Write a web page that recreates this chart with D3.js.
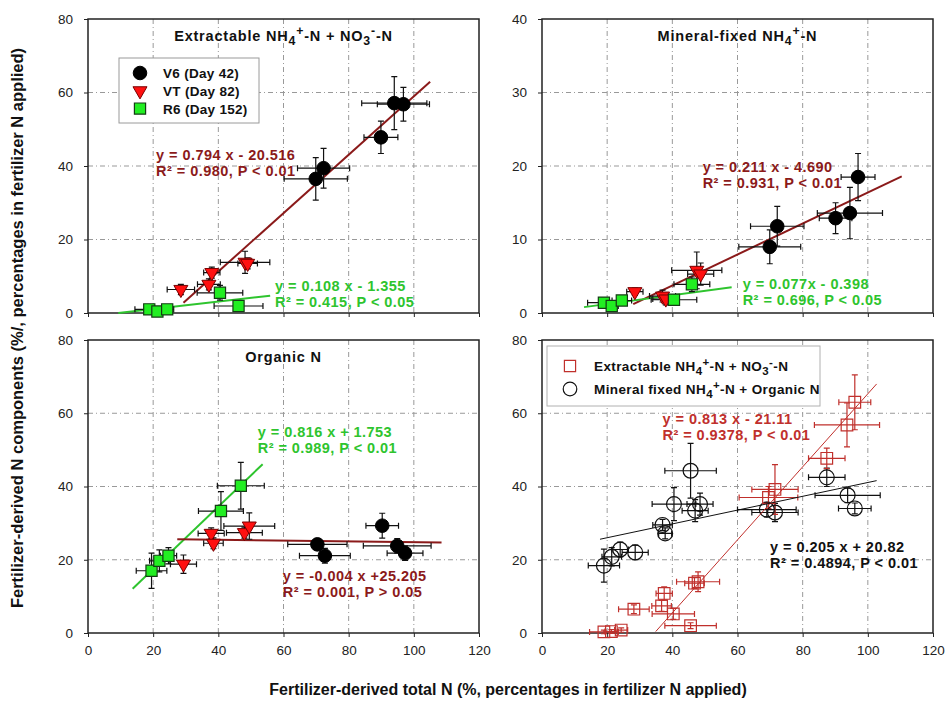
<!DOCTYPE html>
<html>
<head>
<meta charset="utf-8">
<script src="https://cdnjs.cloudflare.com/ajax/libs/d3/7.8.5/d3.min.js"></script>
<style>
body { margin:0; background:#fff; }
svg { font-family: "Liberation Sans", Arial, sans-serif; }
</style>
</head>
<body>
<svg></svg>
<script>
// each point: [total N, component N, x error, y error]
var extV6 = [[94.0,57.1,10,7.2],[96.8,56.8,8,4.6],[89.9,47.8,5.2,4.4],[72.3,39.4,8,5.4],[69.9,36.5,9.7,5.8]];
var extVT = [[28.5,6.4,4.2,1.4],[37.1,7.8,3.5,1.5],[38.0,11.0,2.5,1.5],[48.2,13.8,7.6,3.0],[49.0,13.5,3,1.5]];
var extR6 = [[18.8,1.0,4.4,0.8],[21.3,0.4,2,0.6],[24.3,1.0,2,0.8],[40.5,5.5,7,2.0],[46.2,1.9,7.5,0.8]];

var fixV6 = [[97.0,18.5,5.2,3.2],[94.5,13.6,10,3.5],[90.1,12.9,5,2.1],[72.2,11.8,8.2,2.7],[69.9,9.0,9.5,2.3]];
var fixVT = [[28.5,2.9,2.5,0.5],[37.0,2.3,4,0.8],[38.0,1.9,4,0.8],[47.5,5.8,7.7,2.5],[48.7,5.3,4,1.5]];
var fixR6 = [[19.0,1.4,5,0.6],[21.4,0.95,2,0.5],[24.5,1.7,3,0.6],[46.0,3.9,5.5,1.0],[40.5,1.8,7,0.6]];

var orgV6 = [[90.3,29.3,5,3.4],[94.9,23.8,10.4,2.0],[97.3,21.8,5.5,2.0],[70.4,24.2,9.1,1.5],[72.7,21.1,7.8,2.0]];
var orgVT = [[29.3,18.8,4,2.5],[37.8,27.2,4,1.5],[38.5,24.5,3,1.5],[48.0,27.4,5.5,1.5],[49.5,29.2,7.8,3.6]];
var orgR6 = [[19.5,17.0,4.7,4.8],[21.9,19.7,3,3],[24.7,21.1,2.5,2.2],[40.8,33.3,6.9,5.3],[46.9,40.2,7.2,6.4]];

var sumExt = [[96.0,63.0,4.9,7.5],[93.6,56.8,10,6],[87.4,47.7,5.6,2.8],[71.5,39.2,7.1,6.8],[69.5,37.0,9,3],
              [47.9,14.0,6.6,2.7],[46.8,13.6,3,1.5],[37.5,10.8,2.5,1.8],[36.7,7.4,3,1.5],[28.2,6.5,4.7,1.2],
              [40.3,5.2,6.5,1.5],[45.6,2.0,7.9,0.8],[19.0,0.3,4.4,0.5],[21.3,0.4,2,0.5],[24.3,0.8,2,0.6]];
var sumFixOrg = [[45.6,44.3,7.9,7.5],[40.5,35.2,6.7,4.5],[48.5,35.2,4,3],[47.0,33.4,4,3],[37.0,29.5,3,1.5],
                 [37.8,27.2,2,1.5],[19.0,18.4,4.8,4.5],[21.4,20.8,3,2.5],[24.0,22.8,2.5,2],[28.6,22.0,4,2],
                 [87.4,42.5,5.6,2.5],[93.8,37.6,10,2],[96.0,34.0,5,1.5],[71.5,32.9,7.1,2.5],[69.0,33.7,9,2]];

// regression lines as drawn: [[x start, y start],[x end, y end]]
var extFitRed = [[29.3,2.8],[105,62.9]];
var extFitGreen = [[9.3,0.0],[55.9,4.7]];
var fixFitRed = [[28.0,1.2],[110.4,18.6]];
var fixFitGreen = [[12.9,0.8],[58.2,3.5]];
var orgFitGreen = [[13.7,12.1],[53.6,46.1]];
var orgFitRed = [[27.4,25.6],[108.5,24.7]];
var sumFitRed = [[34.9,0.4],[102.7,68.0]];
var sumFitBlack = [[17.8,25.6],[102.7,41.6]];

var extEqRed = ["y = 0.794 x - 20.516", "R\u00b2 = 0.980, P < 0.01"];
var extEqGreen = ["y = 0.108 x - 1.355", "R\u00b2 = 0.415, P < 0.05"];
var fixEqRed = ["y = 0.211 x - 4.690", "R\u00b2 = 0.931, P < 0.01"];
var fixEqGreen = ["y = 0.077x - 0.398", "R\u00b2 = 0.696, P < 0.05"];
var orgEqGreen = ["y = 0.816 x + 1.753", "R\u00b2 = 0.989, P < 0.01"];
var orgEqRed = ["y = -0.004 x +25.205", "R\u00b2 = 0.001, P > 0.05"];
var sumEqRed = ["y = 0.813 x - 21.11", "R\u00b2 = 0.9378, P < 0.01"];
var sumEqBlack = ["y = 0.205 x + 20.82", "R\u00b2 = 0.4894, P < 0.01"];

var xTicks = [0,20,40,60,80,100,120];
var yTicksMain = [0,20,40,60,80];
var yTicksFixed = [0,10,20,30,40];
var stageNames = ["V6 (Day 42)", "VT (Day 82)", "R6 (Day 152)"];

var darkRed = "#8b1a1a";
var green = "#2ec42e";
var lightRed = "#c0302c";

var svg = d3.select("svg")
            .attr("width", 947)
            .attr("height", 702);

// rich text: [string, "sub" | "sup" | ""]
var richText = function(sel, parts, size)
{
  var cur = 0;
  parts.forEach(function(p) {
    var target = 0;
    var t = sel.append("tspan").text(p[0]);
    if (p[1] == "sub") { target = size*0.28; t.attr("font-size", size*0.85); }
    if (p[1] == "sup") { target = -size*0.4; t.attr("font-size", size*0.85); }
    t.attr("dy", target - cur);
    cur = target;
  });
}

var drawPanel = function(p)
{
  var xScale = d3.scaleLinear()
                 .domain([0,120])
                 .range([p.left, p.right]);
  var yScale = d3.scaleLinear()
                 .domain([0,p.yTicks[p.yTicks.length-1]])
                 .range([p.bottom, p.top]);
  var g = svg.append("g");

  // grid
  g.selectAll(".vgrid")
   .data(xTicks.slice(1,-1))
   .enter()
   .append("line")
   .attr("x1", function(d) { return xScale(d); })
   .attr("x2", function(d) { return xScale(d); })
   .attr("y1", p.top)
   .attr("y2", p.bottom)
   .attr("stroke", "#999")
   .attr("stroke-dasharray", "5,3,1,3");
  g.selectAll(".hgrid")
   .data(p.yTicks.slice(1,-1))
   .enter()
   .append("line")
   .attr("y1", function(d) { return yScale(d); })
   .attr("y2", function(d) { return yScale(d); })
   .attr("x1", p.left)
   .attr("x2", p.right)
   .attr("stroke", "#999")
   .attr("stroke-dasharray", "5,3,1,3");

  // axes
  var xAxis = g.append("g")
               .attr("transform", "translate(0," + p.bottom + ")")
               .call(d3.axisBottom(xScale).tickValues(xTicks).tickSize(4).tickPadding(8)
                       .tickFormat(p.xLabels ? d3.format("d") : function() { return ""; }));
  var yAxis = g.append("g")
               .attr("transform", "translate(" + p.left + ",0)")
               .call(d3.axisLeft(yScale).tickValues(p.yTicks).tickSize(4).tickPadding(11));
  [xAxis, yAxis].forEach(function(a) {
    a.select(".domain").remove();
    a.selectAll("line").attr("stroke", "#222");
    a.selectAll("text").attr("font-size", 13.5).attr("fill", "#222")
     .attr("font-family", "Liberation Sans, Arial, sans-serif");
  });

  g.append("rect")
   .attr("x", p.left)
   .attr("y", p.top)
   .attr("width", p.right - p.left)
   .attr("height", p.bottom - p.top)
   .attr("fill", "none")
   .attr("stroke", "#222")
   .attr("stroke-width", 1.5);

  // title
  if (p.title)
  {
    var t = g.append("text")
             .attr("x", (p.left + p.right)/2)
             .attr("y", p.top + 22)
             .attr("text-anchor", "middle")
             .attr("font-weight", "bold")
             .attr("font-size", 14.5)
             .attr("letter-spacing", 0.8)
             .attr("fill", "#111");
    richText(t, p.title, 14.5);
  }

  // fitted lines
  p.fits.forEach(function(f) {
    g.append("line")
     .attr("x1", xScale(f.line[0][0]))
     .attr("y1", yScale(f.line[0][1]))
     .attr("x2", xScale(f.line[1][0]))
     .attr("y2", yScale(f.line[1][1]))
     .attr("stroke", f.color)
     .attr("stroke-width", f.width);
  });

  // error bars
  p.series.forEach(function(s) {
    g.selectAll(null)
     .data(s.data)
     .enter()
     .append("path")
     .attr("d", function(d) {
       var cx = xScale(d[0]), cy = yScale(d[1]);
       var x0 = xScale(d[0]-d[2]), x1 = xScale(d[0]+d[2]);
       var y0 = yScale(d[1]-d[3]), y1 = yScale(d[1]+d[3]);
       return "M" + x0 + "," + cy + "H" + x1 +
              "M" + x0 + "," + (cy-3) + "V" + (cy+3) +
              "M" + x1 + "," + (cy-3) + "V" + (cy+3) +
              "M" + cx + "," + y0 + "V" + y1 +
              "M" + (cx-3) + "," + y0 + "H" + (cx+3) +
              "M" + (cx-3) + "," + y1 + "H" + (cx+3);
     })
     .attr("fill", "none")
     .attr("stroke", s.barColor)
     .attr("stroke-width", 1.2);
  });

  // markers
  p.series.forEach(function(s) {
    g.selectAll(null)
     .data(s.data)
     .enter()
     .append("path")
     .attr("transform", function(d) {
       return "translate(" + xScale(d[0]) + "," + yScale(d[1]) + ")" + (s.shape == "tri" ? " rotate(180)" : "");
     })
     .attr("d", function(d) { return markerPath(s.shape, s.size); })
     .attr("fill", s.fill)
     .attr("stroke", s.stroke)
     .attr("stroke-width", s.strokeWidth);
  });

  // equations
  p.labels.forEach(function(l) {
    var t = g.append("text")
             .attr("x", xScale(l.at[0]))
             .attr("y", yScale(l.at[1]))
             .attr("font-size", 14.5)
             .attr("font-weight", "bold")
             .attr("letter-spacing", 0.45)
             .attr("fill", l.color);
    t.append("tspan").text(l.text[0]);
    t.append("tspan").attr("x", xScale(l.at[0])).attr("dy", 16).text(l.text[1]);
  });

  return {x:xScale, y:yScale, g:g};
}

var markerPath = function(shape, size)
{
  if (shape == "circle") return d3.symbol().type(d3.symbolCircle).size(size || 145)();
  if (shape == "tri") return d3.symbol().type(d3.symbolTriangle).size(size || 85)();
  return d3.symbol().type(d3.symbolSquare).size(size || 125)();
}

var stageSeries = function(v6, vt, r6)
{
  return [
    {data:v6, shape:"circle", fill:"#000", stroke:"#000", strokeWidth:1, barColor:"#111"},
    {data:vt, shape:"tri", fill:"#ff1010", stroke:"#7a0000", strokeWidth:1, barColor:"#111"},
    {data:r6, shape:"square", fill:"#22ee22", stroke:"#143d14", strokeWidth:1.2, barColor:"#111"}
  ];
}

var tl = drawPanel({
  left:88, right:479, top:19, bottom:313, yTicks:yTicksMain, xLabels:false,
  title:[["Extractable NH",""],["4","sub"],["+","sup"],["-N + NO",""],["3","sub"],["-","sup"],["-N",""]],
  fits:[{line:extFitRed, color:darkRed, width:2}, {line:extFitGreen, color:green, width:2}],
  series:stageSeries(extV6, extVT, extR6),
  labels:[{text:extEqRed, at:[20.9,41.6], color:darkRed}, {text:extEqGreen, at:[57.4,6.1], color:green}]
});

var tr = drawPanel({
  left:542, right:933, top:19, bottom:313, yTicks:yTicksFixed, xLabels:false,
  title:[["Mineral-fixed NH",""],["4","sub"],["+","sup"],["-N",""]],
  fits:[{line:fixFitRed, color:darkRed, width:2}, {line:fixFitGreen, color:green, width:2}],
  series:stageSeries(fixV6, fixVT, fixR6),
  labels:[{text:fixEqRed, at:[49.3,19.2], color:darkRed}, {text:fixEqGreen, at:[61.6,3.2], color:green}]
});

var bl = drawPanel({
  left:88, right:479, top:340, bottom:633, yTicks:yTicksMain, xLabels:true,
  title:[["Organic N",""]],
  fits:[{line:orgFitGreen, color:green, width:2}, {line:orgFitRed, color:darkRed, width:2}],
  series:stageSeries(orgV6, orgVT, orgR6),
  labels:[{text:orgEqGreen, at:[52.1,53.6], color:green}, {text:orgEqRed, at:[59.8,14.3], color:darkRed}]
});

var br = drawPanel({
  left:542, right:933, top:340, bottom:633, yTicks:yTicksMain, xLabels:true,
  title:null,
  fits:[],
  series:[
    {data:sumFixOrg, shape:"circle", size:175, fill:"none", stroke:"#111", strokeWidth:1.2, barColor:"#111"},
    {data:sumExt, shape:"square", size:135, fill:"none", stroke:lightRed, strokeWidth:1.2, barColor:lightRed}
  ],
  labels:[{text:sumEqRed, at:[37.0,57.1], color:lightRed}, {text:sumEqBlack, at:[70.0,22.0], color:"#111"}]
});

// lines of the combined panel go over the hollow markers
[{line:sumFitRed, color:lightRed}, {line:sumFitBlack, color:"#111"}].forEach(function(f) {
  br.g.append("line")
      .attr("x1", br.x(f.line[0][0]))
      .attr("y1", br.y(f.line[0][1]))
      .attr("x2", br.x(f.line[1][0]))
      .attr("y2", br.y(f.line[1][1]))
      .attr("stroke", f.color)
      .attr("stroke-width", 1);
});

// legend, stage panel
var leg1 = svg.append("g").attr("transform", "translate(119,58)");
leg1.append("rect")
    .attr("width", 140).attr("height", 65)
    .attr("fill", "#fff").attr("stroke", "#9a9a9a");
stageSeries([], [], []).forEach(function(s, i) {
  var yy = 15 + i*17.8;
  leg1.append("path")
      .attr("transform", "translate(21," + yy + ")" + (s.shape == "tri" ? " rotate(180)" : ""))
      .attr("d", markerPath(s.shape))
      .attr("fill", s.fill)
      .attr("stroke", s.stroke)
      .attr("stroke-width", s.strokeWidth);
  leg1.append("text")
      .attr("x", 44).attr("y", yy + 5)
      .attr("font-size", 13.5).attr("font-weight", "bold")
      .attr("letter-spacing", 0.3)
      .attr("fill", "#111")
      .text(stageNames[i]);
});

// legend, combined panel
var leg2 = svg.append("g").attr("transform", "translate(547,346)");
leg2.append("rect")
    .attr("width", 273).attr("height", 60)
    .attr("fill", "#fff").attr("stroke", "#b0b0b0");
var leg2Items = [
  {shape:"square", stroke:lightRed, parts:[["Extractable NH",""],["4","sub"],["+","sup"],["-N + NO",""],["3","sub"],["-","sup"],["-N",""]]},
  {shape:"circle", stroke:"#111", parts:[["Mineral fixed NH",""],["4","sub"],["+","sup"],["-N + Organic N",""]]}
];
leg2Items.forEach(function(it, i) {
  var yy = 20 + i*23;
  leg2.append("path")
      .attr("transform", "translate(23," + yy + ")")
      .attr("d", markerPath(it.shape))
      .attr("fill", "none")
      .attr("stroke", it.stroke)
      .attr("stroke-width", 1.2);
  var t = leg2.append("text")
              .attr("x", 47).attr("y", yy + 5)
              .attr("font-size", 13.5).attr("font-weight", "bold")
              .attr("letter-spacing", 0.4)
              .attr("fill", "#111");
  richText(t, it.parts, 13.5);
});

// axis titles
svg.append("text")
   .attr("transform", "translate(23,328) rotate(-90)")
   .attr("text-anchor", "middle")
   .attr("font-size", 16.5).attr("font-weight", "bold")
   .attr("fill", "#111")
   .text("Fertilizer-derived N components (%/, percentages in fertilizer N applied)");
svg.append("text")
   .attr("x", 508).attr("y", 695)
   .attr("text-anchor", "middle")
   .attr("font-size", 16).attr("font-weight", "bold")
   .attr("fill", "#111")
   .text("Fertilizer-derived total N (%, percentages in fertilizer N applied)");
</script>
</body>
</html>
